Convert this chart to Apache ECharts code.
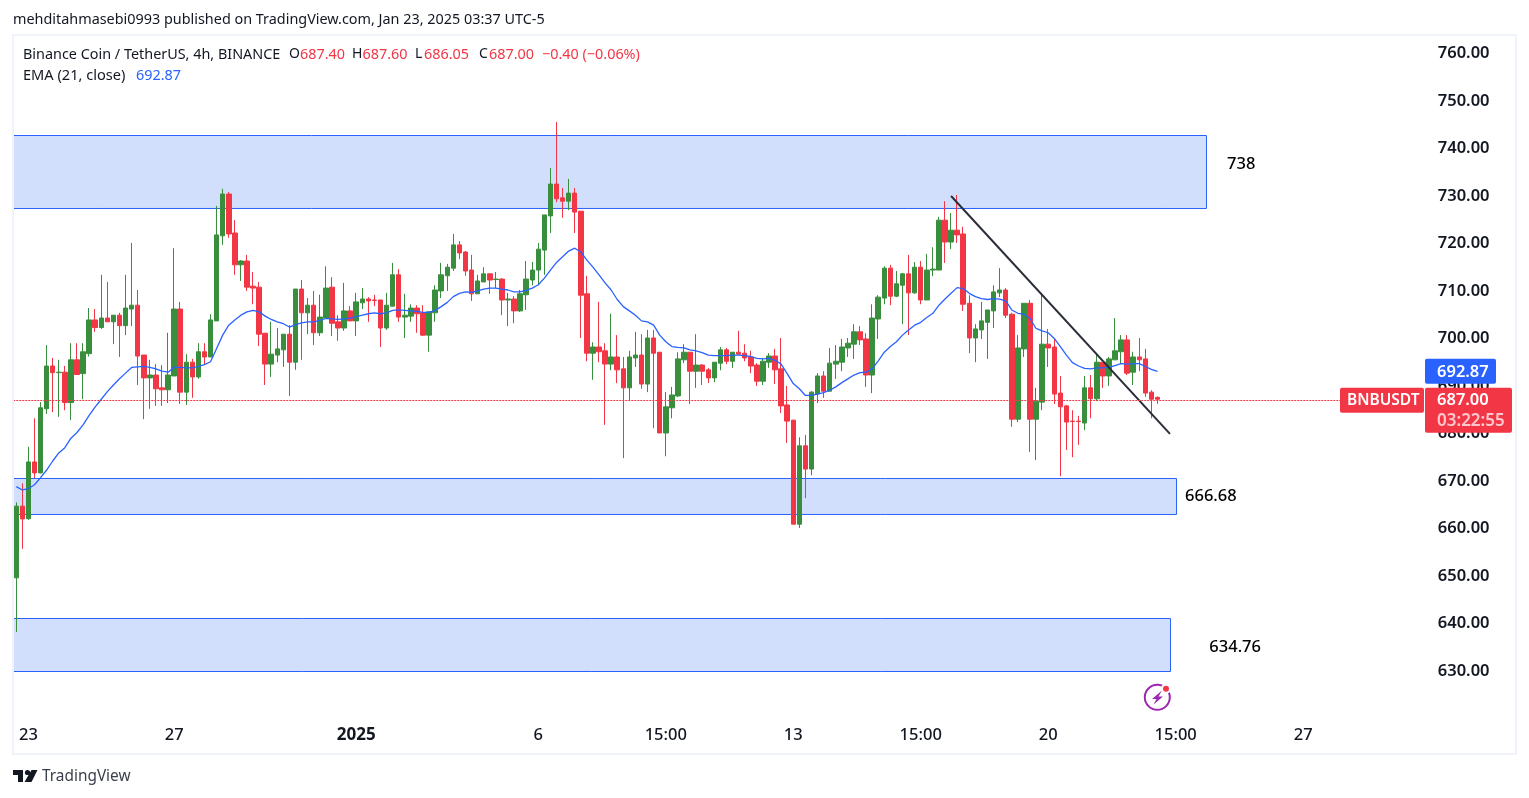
<!DOCTYPE html>
<html lang="en">
<head>
<meta charset="UTF-8">
<title>BNBUSDT 4h</title>
<script src="https://cdn.jsdelivr.net/npm/echarts@6/dist/echarts.min.js"></script>
<style>
  html, body { margin: 0; padding: 0; background: #fff; }
  #chart { width: 1529px; height: 798px; }
</style>
</head>
<body>
<div id="chart"></div>
<script>
// candles (oldest first)
var opens = [649.4,664.5,661.85,673.8,671.5,685,694,692.6,692.7,686.3,695.3,692.4,696.6,703.7,702.1,704.1,703.3,704.7,702.5,706,
  706.8,696.3,691.5,692.1,689.4,689,691.9,706,688.5,694.8,691.7,697,695.9,703.5,721.4,730.2,722,715.3,716.1,710.8,
  710.6,700.9,694.4,696.3,697.4,700.7,694.8,710.2,705.2,706.8,701,704.1,710.6,703.3,702,705.6,703.5,707.3,708.1,707.9,
  707.9,702,706.6,713.2,704.3,704.5,706.2,705.2,700.5,705.2,709.8,713,714.6,719.5,718,714.2,709.2,711.7,713.4,712.2,
  712.3,707.9,708.1,705.6,709,712.1,714.2,718.4,725.6,732.3,729.4,728.7,730.4,726.6,709.2,696.7,698,697.2,694.4,695.9,
  693.4,689.4,695.7,696.3,690.2,699.9,696.9,679.9,685.2,687.7,695.3,696.9,692.9,694.2,693.2,691.5,694.6,697.4,695,696.9,
  696.7,695.9,694.2,690.8,694.8,696.1,693.4,685.8,682.6,660.7,677.2,672.3,688.1,691.9,688.7,694.4,694.8,697.8,698.6,701.2,
  699.7,692.1,703.9,708.3,714.6,708.7,711,713.4,709.4,714.8,707.9,714.2,714.2,724.7,720.1,722.6,721.8,707.2,699.9,701.6,
  703.2,705.6,709.4,710,704.9,682.8,697.6,707.2,682.8,686.4,698.6,698,688.3,685.6,682.4,682.4,682,689.4,687.1,694.8,
  691.9,695.3,697,699.5,692.7,695.9,695.5,688.5,687.4];
var closes = [664.5,661.8,673.8,671.5,685.2,694,692.6,692.7,686.3,695.3,692.2,697,703.7,702.1,704.1,703.3,704.7,702.5,706.2,706.8,
  696.1,691.5,692.1,689.2,689,692.1,706,688.5,694.8,691.7,697,695.9,703.7,721.6,730.2,721.8,715.3,716.1,710.6,710.4,
  700.7,694.4,696.5,697.6,700.7,694.8,710.2,705.2,706.8,701,704.3,710.4,703,702,705.6,703.5,707.5,708.1,707.7,707.8,
  702,706.8,713.2,704.3,704.7,706.2,705,700.5,705.4,710,713.2,714.8,719.5,717.8,714,709.2,711.9,713.4,712.1,712.3,
  707.9,708.1,705.6,709.2,712.3,714.2,718.6,725.8,732.3,729.2,728.7,730.4,726.4,708.9,696.7,698,697,694.4,695.9,693.2,
  689.4,695.9,696.3,690.2,699.9,696.7,679.9,685.4,687.9,695.5,696.9,692.9,694.2,692.9,691.5,694.8,697.4,695,696.9,696.5,
  695.7,694,690.8,695,696.1,693.2,685.6,682.4,660.7,677.2,672.3,688.5,691.9,688.7,694.6,695,698,698.8,701.2,699.5,
  692.1,704.1,708.5,714.6,708.7,711.3,713.4,709.4,714.8,707.9,714.2,714.4,724.7,720.1,722.6,721.6,707,699.9,701.8,703.5,
  705.8,709.6,710,704.7,682.8,697.8,707.2,682.8,686.6,698.6,697.8,688.1,685.4,682.2,682.3,682.3,689.4,687.1,694.8,691.9,
  695.5,697.2,699.5,692.5,695.9,695.3,688.3,687,687];
var lows = [638,655.5,661.6,670.4,671.4,683.9,684.3,683.3,684.7,682.6,692.2,687,696,701.2,701.8,703.3,698.6,695.9,700.5,702.4,
  690,682.8,685,685.6,685.6,686.2,691.9,686,685.8,687.3,691.3,694.2,695.9,703.5,719.5,721,713.2,711.9,709.8,707,
  698.2,690,691.7,694.8,693.8,687.7,693.2,695.3,700.7,698.4,700.3,704.1,700.3,699.3,701.4,703.5,700.3,706,703.3,706.6,
  698,701.6,706.6,703.3,699.9,703.3,701,700.3,697,703.3,708.3,709.8,714,716.5,713,707.7,709.2,711.7,709.2,710.4,
  704.7,702.4,703,705.4,705.8,711,711,713.2,722,728.5,725.2,726.8,722,699.9,695,691.1,694.8,681.6,693.1,690.4,
  674.6,686.6,693.8,689.2,688.5,680.9,679.9,675,683,687.5,694.6,686,689.4,690,690.4,690.6,693.1,694.4,693.6,696.5,
  695,692.5,689.8,690,693.6,690.2,684.1,677.8,660.7,659.9,666.2,671,686.2,687.3,688.7,691.3,692.9,695.9,695.5,698.4,
  689.6,688.3,699.7,707,706.8,708.5,702.8,700.5,709.2,707,707.9,712.9,714.2,715.7,718.6,719.9,705.6,696.7,694.8,699.7,
  695.5,702,708.5,704.1,681.2,682.2,695.9,675.9,674.2,684.7,693.8,686,670.8,676.3,674.8,677.4,680.5,683,686.6,689.4,
  689.8,695.3,694.4,692.1,690,692.9,687.5,683,686.05];
var highs = [665.3,669.3,677,683,686.4,698.4,695.7,695.3,694,698.8,698.8,698.8,706.2,706,713.2,711.7,704.7,705.2,713.2,719.9,
  710,696.3,695.3,694.4,694.2,701,718.8,707.5,696.5,695.5,698.8,698.8,704.9,727.7,731.3,730.6,724.7,716.3,717.4,713.8,
  711.7,700.9,703.3,702,700.7,702.6,710.2,712.1,708.3,709.8,709,715,712.7,704.7,711.5,706.6,709.4,710.4,708.5,709,
  707.9,709.4,715.7,714.4,709.2,707,706.8,706.8,705.4,711,715.7,715.5,721.8,720.3,718.2,717.4,713.2,714.8,713.4,713.8,
  712.5,709.4,708.7,710,716.1,715.9,719.9,725.8,735.7,745.4,731.5,733.4,731.5,726.6,713,699,707.5,698.8,705,700.5,
  695.9,697.2,701.2,700.7,701.6,701.6,696.9,688.5,689.6,696.9,698.6,696.9,700.7,694.4,693.6,694.8,698,697.8,696.9,701.4,
  698.6,697.2,694.6,695.7,696.7,697.6,699.9,689.8,682.6,679,679.5,688.7,692.5,692.9,697.8,698.4,699.7,699.9,702.8,702.4,
  700.9,707,708.9,715,715.3,714,713.6,717.4,715.9,716.1,717.6,719,725.4,728.7,726.2,730,723.3,708.9,702.8,707.5,
  705.8,711,714.6,710.4,705.2,700.5,707.2,707.9,689.4,709.4,701.8,699.9,691.9,685.8,684.7,683.5,691.9,692.1,696.7,694.8,
  695.9,704.1,700.5,700.5,697,699.9,697.6,688.9,687.6];
var ema21 = [668.6,667.9,668.2,669,670.5,672.1,674,675.7,676.8,678.8,680,681.6,683.6,685.4,687,688.6,690,691.3,692.5,693.7,
  693.8,693.9,693.7,693.4,692.9,692.7,693.7,693.7,693.6,693.6,693.9,694.3,694.9,697.7,700.5,702.6,703.7,704.7,705.4,705.7,
  705.4,704.5,703.8,703.3,702.9,702.2,702.7,703.1,703.3,703.3,703.6,704,703.9,703.8,703.9,704.1,704.4,704.7,705,705.2,
  705,705.2,705.7,705.8,705.7,705.6,705.5,705.3,705.3,705.7,706.5,707.4,708.6,709.3,709.6,709.5,709.8,710.2,710.4,710.4,
  710.2,710,709.6,709.6,709.9,710.4,711.1,712.5,714.2,715.8,717,718.2,718.8,718,716.3,714.8,713.2,711.5,710,708,
  706.5,705.6,704.7,703.5,703.3,702.6,700.5,699.1,698.1,697.9,697.8,697.4,697.2,696.8,696.3,696.2,696.2,696.2,696.3,696.3,
  696.2,696,695.6,695.5,695.6,695.2,694.4,692.4,690.3,689.2,687.8,687.8,688.1,688.4,688.9,689.6,690.5,691.3,692.1,692.6,
  692.7,693.4,695.1,696.9,698.1,699.1,700.5,701.6,702.6,703.2,704.2,705.1,706.8,708.1,709.3,710.5,710.3,709.3,708.6,708.2,
  708,708.2,708.1,707.7,705.8,705.1,704.9,704,701.9,701.4,701,699.8,698.1,696.3,694.7,694,693.5,693.4,693.6,693.6,
  693.7,694.1,694.5,694.4,694.5,694.5,693.9,693.3,692.87];

// time axis, the bands run on past the last candle
var barCount = 232;
var tickIndex = [2, 26, 56, 86, 107, 128, 149, 170, 191, 212];
var tickLabels = ['23', '27', '2025', '6', '15:00', '13', '15:00', '20', '15:00', '27'];

// drawn zones: end bar, top price, bottom price
var zoneEnd = [196.08, 191.14, 190.15];
var zoneTop = [742.526, 670.316, 640.842];
var zoneBottom = [727.16, 662.737, 629.684];
var zoneLabels = ['738', '666.68', '634.76'];
var zoneLabelBar = [201.8, 196.8, 200.8];
var zoneLabelPrice = [736.5, 666.6, 634.8];

// hand drawn trend line
var trendBars = [154, 190.06];
var trendPrices = [729.8, 679.7];

var lastPrice = 687;
var lastEma = 692.87;
// the dotted last price line, a hair lower so the dots land on one pixel row
var lastLine = 686.74;

var UP = '#388e3c', DOWN = '#f23645', BLUE = '#2962ff', INK = '#131722';
var FONT = '"Noto Sans", sans-serif';

var categories = [];
for (var i = 0; i < barCount; i++) {
  var t = tickIndex.indexOf(i);
  categories.push(t >= 0 ? tickLabels[t] : '');
}

var candles = opens.map(function (o, i) {
  return [o, closes[i], lows[i], highs[i]];
});

var chart = echarts.init(document.getElementById('chart'));

var option = {
  animation: false,
  backgroundColor: '#fff',
  grid: { left: 13.27, top: 52.5, width: 6.07 * barCount, height: 665 },
  xAxis: [
    {
      type: 'category',
      data: categories,
      axisLine: { show: false },
      axisTick: { show: false },
      splitLine: { show: false },
      axisLabel: {
        interval: 0,
        margin: 9,
        fontFamily: FONT,
        fontSize: 16.5,
        fontWeight: 500,
        color: INK,
        hideOverlap: false,
        formatter: function (v) {
          return v === '2025' ? '{b|2025}' : v;
        },
        rich: { b: { fontFamily: FONT, fontSize: 17, fontWeight: 'bold', color: INK } }
      }
    },
    // same span as the bands, for things that end between two bars
    { type: 'value', min: -0.5, max: barCount - 0.5, show: false }
  ],
  yAxis: {
    type: 'value',
    position: 'right',
    min: 620,
    max: 760,
    interval: 10,
    scale: true,
    axisLine: { show: false },
    axisTick: { show: false },
    splitLine: { show: false },
    axisLabel: {
      align: 'right',
      margin: 68,
      showMinLabel: false,
      formatter: function (v) { return '{p|' + v.toFixed(2) + '}'; },
      rich: {
        // the top padding nudges the digits down a pixel
        p: { fontFamily: FONT, fontSize: 16.5, fontWeight: 600, color: INK, padding: [2, 0, 0, 0] }
      }
    }
  },
  series: [
    {
      // zones and their price notes
      type: 'scatter',
      xAxisIndex: 1,
      z: 1,
      symbolSize: 0,
      silent: true,
      itemStyle: { opacity: 1 },
      data: zoneLabels.map(function (s, i) {
        return { value: [zoneLabelBar[i], zoneLabelPrice[i]], name: s };
      }),
      label: {
        show: true,
        position: 'inside',
        formatter: '{b}',
        fontFamily: FONT,
        fontSize: 16.5,
        fontWeight: 500,
        color: '#000',
        opacity: 1
      },
      markArea: {
        silent: true,
        itemStyle: { color: '#d1dffd', opacity: 1, borderColor: BLUE, borderWidth: 1 },
        data: zoneEnd.map(function (end, i) {
          return [
            { xAxis: -0.5, yAxis: zoneTop[i] },
            { xAxis: end, yAxis: zoneBottom[i] }
          ];
        })
      }
    },
    {
      type: 'candlestick',
      z: 2,
      barWidth: 5,
      data: candles,
      itemStyle: { color: UP, color0: DOWN, borderColor: UP, borderColor0: DOWN, borderWidth: 1 },
      markLine: {
        silent: true,
        symbol: 'none',
        label: { show: false },
        lineStyle: { color: DOWN, width: 1, type: [2, 1], opacity: 1 },
        data: [{ yAxis: lastLine }]
      }
    },
    {
      type: 'line',
      name: 'EMA',
      z: 3,
      data: ema21,
      symbol: 'none',
      lineStyle: { color: BLUE, width: 1.3 }
    },
    {
      type: 'line',
      name: 'trend',
      xAxisIndex: 1,
      z: 4,
      data: trendBars.map(function (b, i) { return [b, trendPrices[i]]; }),
      symbol: 'none',
      lineStyle: { color: '#2a2e39', width: 2 }
    }
  ]
};

chart.setOption(option);

// texts and tags around the plot
function txt(x, y, s, color, size, extra) {
  var style = { x: x, y: y, text: s, fill: color, fontFamily: FONT, fontSize: size || 14, verticalAlign: 'middle' };
  for (var k in extra) style[k] = extra[k];
  return { type: 'text', z: 30, style: style };
}
function tag(x, y, w, h, color) {
  return { type: 'rect', z: 20, shape: { x: x, y: y, width: w, height: h, r: 2 }, style: { fill: color } };
}

var lastY = chart.convertToPixel({ yAxisIndex: 0 }, lastPrice);
var emaY = chart.convertToPixel({ yAxisIndex: 0 }, lastEma);

chart.setOption({
  graphic: [
    // panel frame, sits over the zones' left edge
    { type: 'rect', z: 10, shape: { x: 13, y: 35, width: 1503, height: 719 }, style: { fill: 'none', stroke: '#f0f3fa', lineWidth: 2 } },

    txt(13, 20, 'mehditahmasebi0993 published on TradingView.com, Jan 23, 2025 03:37 UTC-5', INK, 14.4),
    txt(23, 54.5, 'Binance Coin / TetherUS, 4h, BINANCE', INK, 14.4),
    txt(289, 54.5, 'O', INK, 14),
    txt(300, 54.5, '687.40', DOWN, 14.4),
    txt(352, 54.5, 'H', INK, 14),
    txt(362.5, 54.5, '687.60', DOWN, 14.4),
    txt(415, 54.5, 'L', INK, 14),
    txt(424, 54.5, '686.05', DOWN, 14.4),
    txt(479, 54.5, 'C', INK, 14),
    txt(489, 54.5, '687.00', DOWN, 14.4),
    txt(542, 54.5, '\u22120.40 (\u22120.06%)', DOWN, 14.4),
    txt(23, 75.5, 'EMA (21, close)', INK, 14.6),
    txt(136, 75.5, '692.87', BLUE, 14.4),

    tag(1425, emaY - 12.5, 71, 25, BLUE),
    txt(1437, emaY + 1, lastEma.toFixed(2), '#fff', 16.5, { fontWeight: 600 }),
    tag(1340, lastY - 11.5, 84, 25, DOWN),
    txt(1347, lastY + 1.5, 'BNBUSDT', '#fff', 15.5, { fontWeight: 600 }),
    tag(1425, lastY - 11.5, 87, 45, DOWN),
    txt(1437, lastY + 1.5, lastPrice.toFixed(2), '#fff', 16.5, { fontWeight: 600 }),
    txt(1437, lastY + 22, '03:22:55', '#fcc8cd', 17, { fontWeight: 600 }),

    // bolt badge
    { type: 'circle', z: 20, shape: { cx: 1157.3, cy: 697.3, r: 12.5 }, style: { fill: 'none', stroke: '#9c27b0', lineWidth: 2 } },
    { type: 'polygon', z: 21, shape: { points: [[1162, 690.5], [1152, 699], [1156.5, 699], [1153.5, 704.5], [1163, 696.5], [1158.5, 696.5]] }, style: { fill: '#9c27b0' } },
    { type: 'circle', z: 22, shape: { cx: 1166, cy: 688.7, r: 5 }, style: { fill: '#fff' } },
    { type: 'circle', z: 23, shape: { cx: 1166, cy: 688.7, r: 3 }, style: { fill: DOWN } },

    // logo
    { type: 'polygon', z: 20, shape: { points: [[13, 770], [23, 770], [23, 782], [18, 782], [18, 775], [13, 775]] }, style: { fill: INK } },
    { type: 'circle', z: 20, shape: { cx: 27.5, cy: 772.5, r: 2.6 }, style: { fill: INK } },
    { type: 'polygon', z: 20, shape: { points: [[31.5, 770], [37.5, 770], [31.5, 782], [24.5, 782]] }, style: { fill: INK } },
    txt(42, 776.5, 'TradingView', '#3a3e4a', 15.4)
  ]
});
</script>
</body>
</html>
